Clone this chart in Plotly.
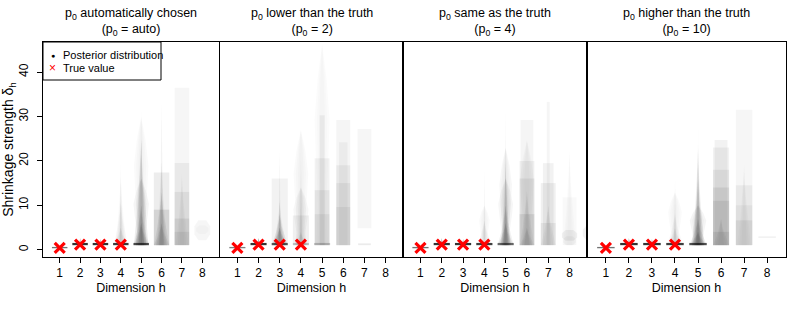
import plotly.graph_objects as go

# ---------------- data ----------------
panel_titles = [
    "p<sub>0</sub> automatically chosen<br>(p<sub>0</sub> = auto)",
    "p<sub>0</sub> lower than the truth<br>(p<sub>0</sub> = 2)",
    "p<sub>0</sub> same as the truth<br>(p<sub>0</sub> = 4)",
    "p<sub>0</sub> higher than the truth<br>(p<sub>0</sub> = 10)",
]
dimensions = [1, 2, 3, 4, 5, 6, 7, 8]
true_dims = [1, 2, 3, 4]
true_values = [0.4, 1.1, 1.1, 1.1]
y_ticks = [0, 10, 20, 30, 40]

# posterior density layers per panel:
# (dimension, low, high, relative density width, overlap weight, shape)
layers_auto = [
    (1, 0.3, 0.6, 0.38, 0.55, "rect"),
    (2, 1.0, 1.5, 0.38, 0.8, "rect"), (2, 1.0, 2.6, 0.06, 0.4, "taper"),
    (3, 1.0, 1.5, 0.38, 0.8, "rect"), (3, 1.0, 2.4, 0.06, 0.4, "taper"),
    (4, 1.0, 1.5, 0.38, 0.75, "rect"), (4, 1.0, 20.6, 0.05, 0.06, "taper"),
    (4, 1.0, 17.0, 0.28, 0.04, "taper"), (4, 1.0, 11.0, 0.35, 0.05, "taper"),
    (4, 1.0, 5.0, 0.38, 0.06, "taper"),
    (5, 1.0, 34.4, 0.05, 0.05, "taper"), (5, 1.0, 30.0, 0.36, 0.04, "bulge"),
    (5, 1.0, 25.0, 0.36, 0.14, "taper"), (5, 1.0, 16.0, 0.38, 0.08, "bulge"),
    (5, 1.0, 10.0, 0.38, 0.12, "taper"), (5, 1.0, 6.0, 0.38, 0.12, "taper"),
    (5, 1.0, 1.5, 0.38, 0.65, "rect"),
    (6, 1.0, 34.4, 0.12, 0.05, "taper"), (6, 1.0, 17.4, 0.38, 0.07, "rect"),
    (6, 1.0, 20.0, 0.3, 0.06, "taper"), (6, 1.0, 13.0, 0.38, 0.1, "taper"),
    (6, 1.0, 9.0, 0.38, 0.1, "rect"), (6, 1.0, 6.0, 0.38, 0.1, "taper"),
    (7, 1.0, 36.5, 0.36, 0.035, "rect"), (7, 1.0, 19.5, 0.36, 0.05, "rect"),
    (7, 1.0, 17.5, 0.3, 0.05, "taper"), (7, 1.0, 13.0, 0.36, 0.06, "rect"),
    (7, 1.0, 7.0, 0.36, 0.07, "rect"), (7, 1.0, 4.0, 0.36, 0.06, "rect"),
    (8, 2.1, 6.6, 0.39, 0.035, "hex"), (8, 3.5, 5.5, 0.3, 0.02, "hex"),
]
layers_lower = [
    (1, 0.3, 0.6, 0.38, 0.5, "rect"),
    (2, 1.0, 1.5, 0.38, 0.8, "rect"), (2, 1.0, 2.6, 0.08, 0.4, "taper"),
    (3, 1.0, 1.5, 0.38, 0.6, "rect"), (3, 1.0, 23.0, 0.05, 0.08, "taper"),
    (3, 1.0, 16.0, 0.38, 0.05, "rect"), (3, 1.0, 11.0, 0.3, 0.08, "taper"),
    (3, 1.0, 8.0, 0.38, 0.12, "taper"), (3, 1.0, 5.0, 0.38, 0.15, "taper"),
    (4, 1.0, 27.0, 0.35, 0.04, "bulge"), (4, 1.0, 23.0, 0.07, 0.06, "taper"),
    (4, 1.0, 14.0, 0.36, 0.06, "bulge"), (4, 1.0, 7.7, 0.38, 0.06, "rect"),
    (4, 1.0, 4.0, 0.36, 0.06, "taper"), (4, 1.0, 1.5, 0.38, 0.2, "rect"),
    (5, 1.0, 46.6, 0.36, 0.03, "bulge"), (5, 1.0, 30.3, 0.12, 0.05, "rect"),
    (5, 1.0, 20.6, 0.35, 0.05, "rect"), (5, 1.0, 13.4, 0.35, 0.06, "rect"),
    (5, 1.0, 8.0, 0.35, 0.05, "rect"), (5, 1.0, 1.5, 0.38, 0.2, "rect"),
    (6, 1.0, 29.2, 0.33, 0.04, "rect"), (6, 1.0, 24.2, 0.2, 0.04, "rect"),
    (6, 1.0, 19.0, 0.33, 0.05, "rect"), (6, 1.0, 15.0, 0.33, 0.05, "rect"),
    (6, 1.0, 9.6, 0.33, 0.05, "rect"),
    (7, 4.8, 27.2, 0.33, 0.035, "rect"), (7, 1.0, 1.4, 0.3, 0.08, "rect"),
]
layers_same = [
    (1, 0.3, 0.6, 0.38, 0.55, "rect"),
    (2, 1.0, 1.5, 0.38, 0.8, "rect"), (2, 1.0, 2.6, 0.06, 0.4, "taper"),
    (3, 1.0, 1.5, 0.38, 0.8, "rect"), (3, 1.0, 2.4, 0.06, 0.4, "taper"),
    (4, 1.0, 1.5, 0.38, 0.75, "rect"), (4, 1.0, 19.5, 0.05, 0.05, "taper"),
    (4, 1.0, 10.0, 0.25, 0.04, "bulge"), (4, 1.0, 6.6, 0.36, 0.06, "taper"),
    (5, 1.0, 33.3, 0.06, 0.05, "taper"), (5, 1.0, 23.0, 0.3, 0.06, "bulge"),
    (5, 1.0, 16.0, 0.35, 0.07, "bulge"), (5, 1.0, 20.0, 0.2, 0.1, "taper"),
    (5, 1.0, 10.0, 0.38, 0.1, "taper"), (5, 1.0, 6.0, 0.38, 0.12, "taper"),
    (5, 1.0, 1.5, 0.38, 0.55, "rect"),
    (6, 1.0, 29.2, 0.3, 0.04, "rect"), (6, 1.0, 24.7, 0.33, 0.05, "bulge"),
    (6, 1.0, 20.0, 0.35, 0.05, "rect"), (6, 1.0, 16.0, 0.35, 0.06, "rect"),
    (6, 1.0, 13.4, 0.35, 0.07, "taper"), (6, 1.0, 8.0, 0.35, 0.08, "rect"),
    (6, 1.0, 5.0, 0.35, 0.08, "taper"),
    (7, 1.0, 33.3, 0.07, 0.04, "rect"), (7, 1.0, 19.5, 0.25, 0.05, "rect"),
    (7, 1.0, 15.0, 0.35, 0.06, "rect"), (7, 1.0, 10.0, 0.35, 0.07, "taper"),
    (7, 1.0, 6.0, 0.35, 0.06, "rect"),
    (8, 1.0, 22.9, 0.3, 0.03, "taper"), (8, 1.0, 11.8, 0.33, 0.025, "rect"),
    (8, 2.0, 4.4, 0.36, 0.05, "hex"), (8, 1.0, 3.0, 0.3, 0.03, "hex"),
    (9, 2.0, 5.5, 0.38, 0.05, "hex"),
]
layers_higher = [
    (1, 0.3, 0.6, 0.38, 0.55, "rect"),
    (2, 1.0, 1.5, 0.38, 0.8, "rect"), (2, 1.0, 2.6, 0.06, 0.4, "taper"),
    (3, 1.0, 1.5, 0.38, 0.8, "rect"), (3, 1.0, 2.4, 0.06, 0.4, "taper"),
    (4, 1.0, 1.5, 0.38, 0.75, "rect"), (4, 1.0, 17.5, 0.05, 0.06, "taper"),
    (4, 1.0, 13.0, 0.3, 0.04, "bulge"), (4, 1.0, 8.4, 0.36, 0.05, "taper"),
    (4, 1.0, 5.0, 0.36, 0.05, "taper"),
    (5, 1.0, 30.3, 0.04, 0.06, "taper"), (5, 1.0, 23.0, 0.25, 0.12, "taper"),
    (5, 1.0, 16.0, 0.3, 0.1, "taper"), (5, 1.0, 10.0, 0.36, 0.08, "bulge"),
    (5, 1.0, 7.0, 0.38, 0.12, "taper"), (5, 1.0, 4.0, 0.38, 0.12, "taper"),
    (5, 1.0, 1.5, 0.38, 0.65, "rect"),
    (6, 1.0, 24.7, 0.28, 0.05, "rect"), (6, 1.0, 23.0, 0.35, 0.05, "rect"),
    (6, 1.0, 18.0, 0.35, 0.06, "rect"), (6, 1.0, 14.0, 0.35, 0.07, "rect"),
    (6, 1.0, 11.0, 0.35, 0.07, "rect"), (6, 1.0, 7.0, 0.35, 0.07, "taper"),
    (6, 1.0, 4.0, 0.35, 0.07, "rect"),
    (7, 1.0, 31.5, 0.36, 0.035, "rect"), (7, 1.0, 19.5, 0.3, 0.05, "taper"),
    (7, 1.0, 14.5, 0.36, 0.05, "rect"), (7, 1.0, 10.0, 0.36, 0.04, "rect"),
    (7, 1.0, 6.6, 0.36, 0.06, "rect"),
    (8, 2.6, 3.0, 0.38, 0.05, "rect"),
]
panel_layers = [layers_auto, layers_lower, layers_same, layers_higher]

# ---------------- styling ----------------
FONT = "Liberation Sans, Arial, sans-serif"
W, H = 789, 316
ML, MR, MT, MB = 43, 3, 42, 59
panel_px = [(43, 219), (220, 403), (403, 587), (587, 786)]
plot_w = W - ML - MR
plot_h = H - MT - MB
domains = [((a - ML) / plot_w, (b - ML) / plot_w) for a, b in panel_px]
XR = [0.18, 8.82]
YR = [-1.67, 46.8]

PROFILES = {
    "rect": [(0, 1.0), (1, 1.0)],
    "taper": [(0, 1.0), (0.15, 0.8), (0.35, 0.52), (0.6, 0.26), (0.85, 0.08), (1, 0.0)],
    "bulge": [(0, 0.75), (0.2, 0.55), (0.45, 0.85), (0.62, 1.0), (0.82, 0.6), (1, 0.0)],
    "hex": [(0, 0.5), (0.3, 1.0), (0.7, 1.0), (1, 0.5)],
}
# soft edges: nested copies (width factor, share of weight) for curved shapes
SOFT = {"taper": [(1.0, 0.5), (0.7, 0.4), (0.4, 0.35)],
        "bulge": [(1.0, 0.5), (0.7, 0.4), (0.4, 0.35)],
        "rect": [(1.0, 1.0)], "hex": [(1.0, 1.0)]}


def outline(dim, low, high, width, kind):
    prof = PROFILES[kind]
    ys = [low + t * (high - low) for t, _ in prof]
    right = [dim + width * f for _, f in prof]
    left = [dim - width * f for _, f in prof]
    xs = right + left[::-1] + [right[0]]
    yy = ys + ys[::-1] + [ys[0]]
    return xs, yy


fig = go.Figure()
for i, layers in enumerate(panel_layers):
    ax = "" if i == 0 else str(i + 1)
    for dim, low, high, width, weight, kind in layers:
        for wf, share in SOFT[kind]:
            xs, ys = outline(dim, low, high, width * wf, kind)
            fig.add_trace(go.Scatter(
                x=xs, y=ys, xaxis="x" + ax, yaxis="y" + ax, mode="lines",
                fill="toself", fillcolor=f"rgba(0,0,0,{weight * share:.4f})",
                line=dict(width=0), hoverinfo="skip", showlegend=False))
    fig.add_trace(go.Scatter(
        x=true_dims, y=true_values, xaxis="x" + ax, yaxis="y" + ax,
        mode="markers", showlegend=False, hoverinfo="skip",
        marker=dict(symbol="x-thin", size=10, color="red",
                    line=dict(color="red", width=3.2))))

layout = dict(
    width=W, height=H, margin=dict(l=ML, r=MR, t=MT, b=MB, autoexpand=False),
    paper_bgcolor="white", plot_bgcolor="white",
    font=dict(family=FONT, size=12, color="black"),
    showlegend=False,
)
for i in range(4):
    ax = "" if i == 0 else str(i + 1)
    layout["xaxis" + ax] = dict(
        domain=list(domains[i]), range=XR, anchor="y" + ax, automargin=False,
        tickvals=dimensions, ticktext=[str(d) for d in dimensions],
        ticks="outside", ticklen=5, tickcolor="black", tickwidth=1,
        showline=True, mirror=True, linecolor="black", linewidth=1,
        showgrid=False, zeroline=False, tickfont=dict(size=12),
        title=dict(text="Dimension h", font=dict(size=12.5), standoff=3),
    )
    ydict = dict(
        domain=[0, 1], range=YR, anchor="x" + ax, automargin=False,
        showline=True, mirror=True, linecolor="black", linewidth=1,
        showgrid=False, zeroline=False,
    )
    if i == 0:
        ydict.update(
            tickvals=y_ticks, ticks="outside", ticklen=5, tickcolor="black",
            tickangle=-90, tickfont=dict(size=12), ticklabelstandoff=4,
            title=dict(text="Shrinkage strength δ<sub>h</sub>",
                       font=dict(size=14), standoff=1),
        )
    else:
        ydict.update(showticklabels=False, ticks="")
    layout["yaxis" + ax] = ydict
fig.update_layout(**layout)

for i, t in enumerate(panel_titles):
    fig.add_annotation(
        text=t, xref="paper", yref="paper",
        x=(domains[i][0] + domains[i][1]) / 2, y=1, xanchor="center",
        yanchor="bottom", yshift=2, showarrow=False, font=dict(size=12.5),
        align="center")

# legend (drawn manually to mimic the compact R legend)
leg_w = (161 - ML) / plot_w
leg_h = (80 - MT) / plot_h
fig.add_shape(type="rect", xref="paper", yref="paper", x0=0, x1=leg_w,
              y0=1 - leg_h, y1=1, line=dict(color="black", width=1),
              fillcolor="white", layer="above")
legend_items = [("●", "black", 7, "Posterior distribution"), ("×", "red", 12, "True value")]
for k, (sym, col, sz, lab) in enumerate(legend_items):
    ypos = 1 - (13 + 13 * k) / plot_h
    fig.add_annotation(text=sym, xref="paper", yref="paper", x=9.5 / plot_w,
                       y=ypos, showarrow=False, font=dict(size=sz, color=col),
                       xanchor="center", yanchor="middle")
    fig.add_annotation(text=lab, xref="paper", yref="paper", x=18 / plot_w,
                       y=ypos, showarrow=False, font=dict(size=11),
                       xanchor="left", yanchor="middle")

fig.write_html("out.html", config={"displayModeBar": False},
               post_script="document.body.style.margin='0';")
